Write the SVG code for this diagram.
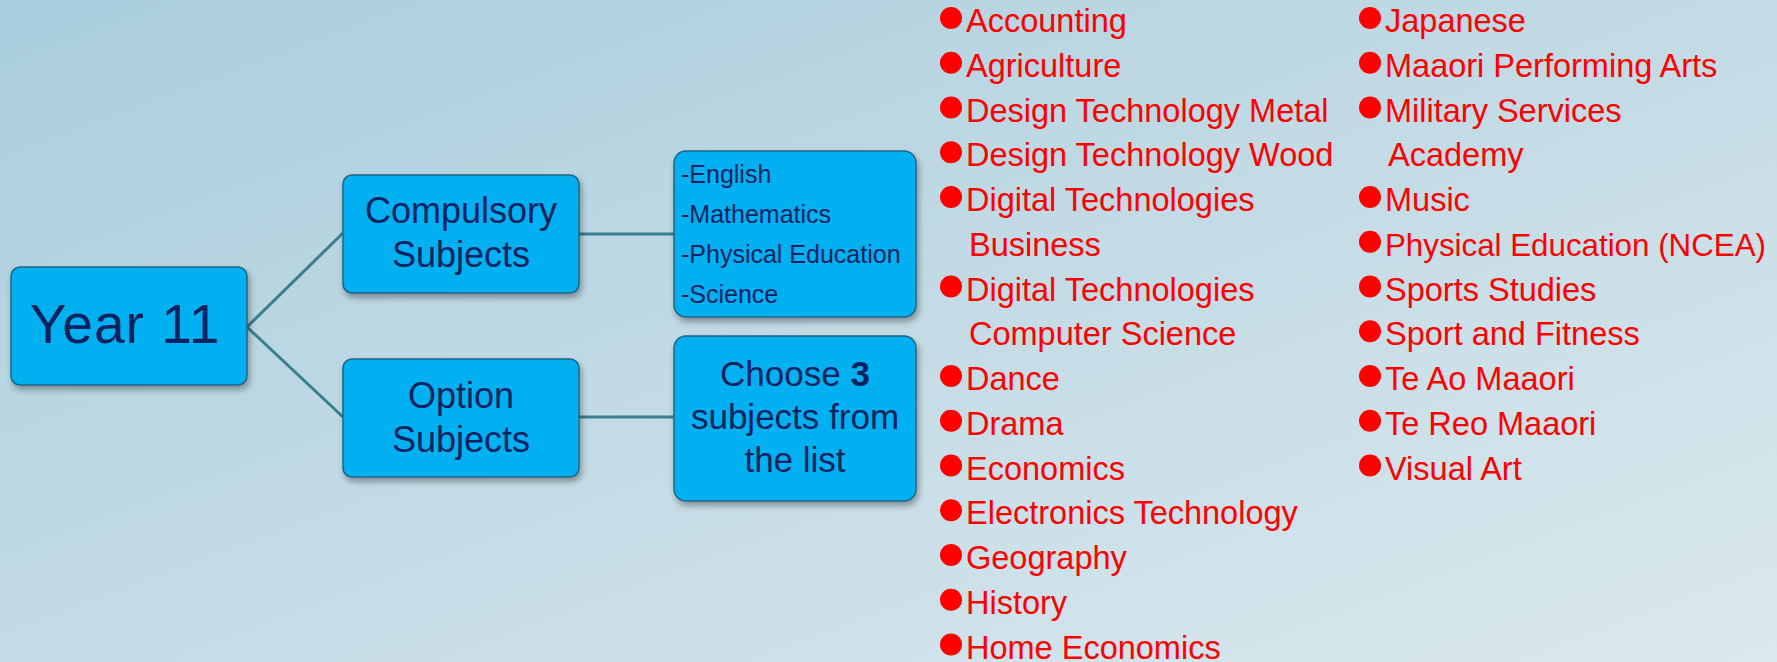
<svg xmlns="http://www.w3.org/2000/svg" width="1777" height="662" viewBox="0 0 1777 662">
<defs>
<linearGradient id="bg" x1="0" y1="0" x2="1" y2="1">
<stop offset="0" stop-color="#a9cddd"/>
<stop offset="0.5" stop-color="#c3dbe5"/>
<stop offset="1" stop-color="#dbe8ee"/>
</linearGradient>
<filter id="sh" x="-10%" y="-10%" width="130%" height="140%">
<feDropShadow dx="2" dy="4" stdDeviation="3" flood-color="#000" flood-opacity="0.35"/>
</filter>
</defs>
<style>
.box{fill:#00b0f0;stroke:#1f6585;stroke-width:1.5;filter:url(#sh)}
.nt{font-family:"Liberation Sans",Arial,sans-serif;fill:#0b2260}
.conn line{stroke:#3a7f8f;stroke-width:3}
.item{font-family:"Liberation Sans",Arial,sans-serif;font-size:32.5px;fill:#ff0000}
.dot{fill:#ff0000}
</style>
<rect width="1777" height="662" fill="url(#bg)"/>
<g class="conn" id="connectors">
<line x1="247" y1="327" x2="343" y2="233"/>
<line x1="247" y1="327" x2="343" y2="417"/>
<line x1="579" y1="234" x2="674" y2="234"/>
<line x1="579" y1="417" x2="674" y2="417"/>
</g>
<g id="year11">
<rect class="box" x="11" y="267" width="236" height="118" rx="9"/>
<text class="nt" x="125" y="343" font-size="55" text-anchor="middle" letter-spacing="1">Year 11</text>
</g>
<g id="compulsory">
<rect class="box" x="343" y="175" width="236" height="118" rx="9"/>
<text class="nt" x="461" y="223" font-size="36" text-anchor="middle">Compulsory</text>
<text class="nt" x="461" y="267" font-size="36" text-anchor="middle">Subjects</text>
</g>
<g id="option">
<rect class="box" x="343" y="359" width="236" height="118" rx="9"/>
<text class="nt" x="461" y="408" font-size="36" text-anchor="middle">Option</text>
<text class="nt" x="461" y="452" font-size="36" text-anchor="middle">Subjects</text>
</g>
<g id="compulsory-list">
<rect class="box" x="674" y="151" width="242" height="166" rx="12"/>
<text class="nt" x="681" y="183" font-size="25">-English</text>
<text class="nt" x="681" y="223" font-size="25">-Mathematics</text>
<text class="nt" x="681" y="263" font-size="25">-Physical Education</text>
<text class="nt" x="681" y="303" font-size="25">-Science</text>
</g>
<g id="choose">
<rect class="box" x="674" y="336" width="242" height="165" rx="12"/>
<text class="nt" x="795" y="386" font-size="35" text-anchor="middle">Choose <tspan font-weight="bold">3</tspan></text>
<text class="nt" x="795" y="429" font-size="35" text-anchor="middle">subjects from</text>
<text class="nt" x="795" y="472" font-size="35" text-anchor="middle">the list</text>
</g>
<g id="option-list-left">
<circle class="dot" cx="951" cy="18" r="11"/><text class="item" x="966" y="32">Accounting</text>
<circle class="dot" cx="951" cy="62.75" r="11"/><text class="item" x="966" y="76.75">Agriculture</text>
<circle class="dot" cx="951" cy="107.5" r="11"/><text class="item" x="966" y="121.5">Design Technology Metal</text>
<circle class="dot" cx="951" cy="152.25" r="11"/><text class="item" x="966" y="166.25">Design Technology Wood</text>
<circle class="dot" cx="951" cy="197" r="11"/><text class="item" x="966" y="211">Digital Technologies</text>
<text class="item" x="969" y="255.75">Business</text>
<circle class="dot" cx="951" cy="286.5" r="11"/><text class="item" x="966" y="300.5">Digital Technologies</text>
<text class="item" x="969" y="345.25">Computer Science</text>
<circle class="dot" cx="951" cy="376" r="11"/><text class="item" x="966" y="390">Dance</text>
<circle class="dot" cx="951" cy="420.75" r="11"/><text class="item" x="966" y="434.75">Drama</text>
<circle class="dot" cx="951" cy="465.5" r="11"/><text class="item" x="966" y="479.5">Economics</text>
<circle class="dot" cx="951" cy="510.25" r="11"/><text class="item" x="966" y="524.25">Electronics Technology</text>
<circle class="dot" cx="951" cy="555" r="11"/><text class="item" x="966" y="569">Geography</text>
<circle class="dot" cx="951" cy="599.75" r="11"/><text class="item" x="966" y="613.75">History</text>
<circle class="dot" cx="951" cy="644.5" r="11"/><text class="item" x="966" y="658.5">Home Economics</text>
</g>
<g id="option-list-right">
<circle class="dot" cx="1370" cy="18" r="11"/><text class="item" x="1385" y="32">Japanese</text>
<circle class="dot" cx="1370" cy="62.75" r="11"/><text class="item" x="1385" y="76.75">Maaori Performing Arts</text>
<circle class="dot" cx="1370" cy="107.5" r="11"/><text class="item" x="1385" y="121.5">Military Services</text>
<text class="item" x="1388" y="166.25">Academy</text>
<circle class="dot" cx="1370" cy="197" r="11"/><text class="item" x="1385" y="211">Music</text>
<circle class="dot" cx="1370" cy="241.75" r="11"/><text class="item" x="1385" y="255.75" style="font-size:31.3px">Physical Education (NCEA)</text>
<circle class="dot" cx="1370" cy="286.5" r="11"/><text class="item" x="1385" y="300.5">Sports Studies</text>
<circle class="dot" cx="1370" cy="331.25" r="11"/><text class="item" x="1385" y="345.25">Sport and Fitness</text>
<circle class="dot" cx="1370" cy="376" r="11"/><text class="item" x="1385" y="390">Te Ao Maaori</text>
<circle class="dot" cx="1370" cy="420.75" r="11"/><text class="item" x="1385" y="434.75">Te Reo Maaori</text>
<circle class="dot" cx="1370" cy="465.5" r="11"/><text class="item" x="1385" y="479.5">Visual Art</text>
</g>
</svg>
